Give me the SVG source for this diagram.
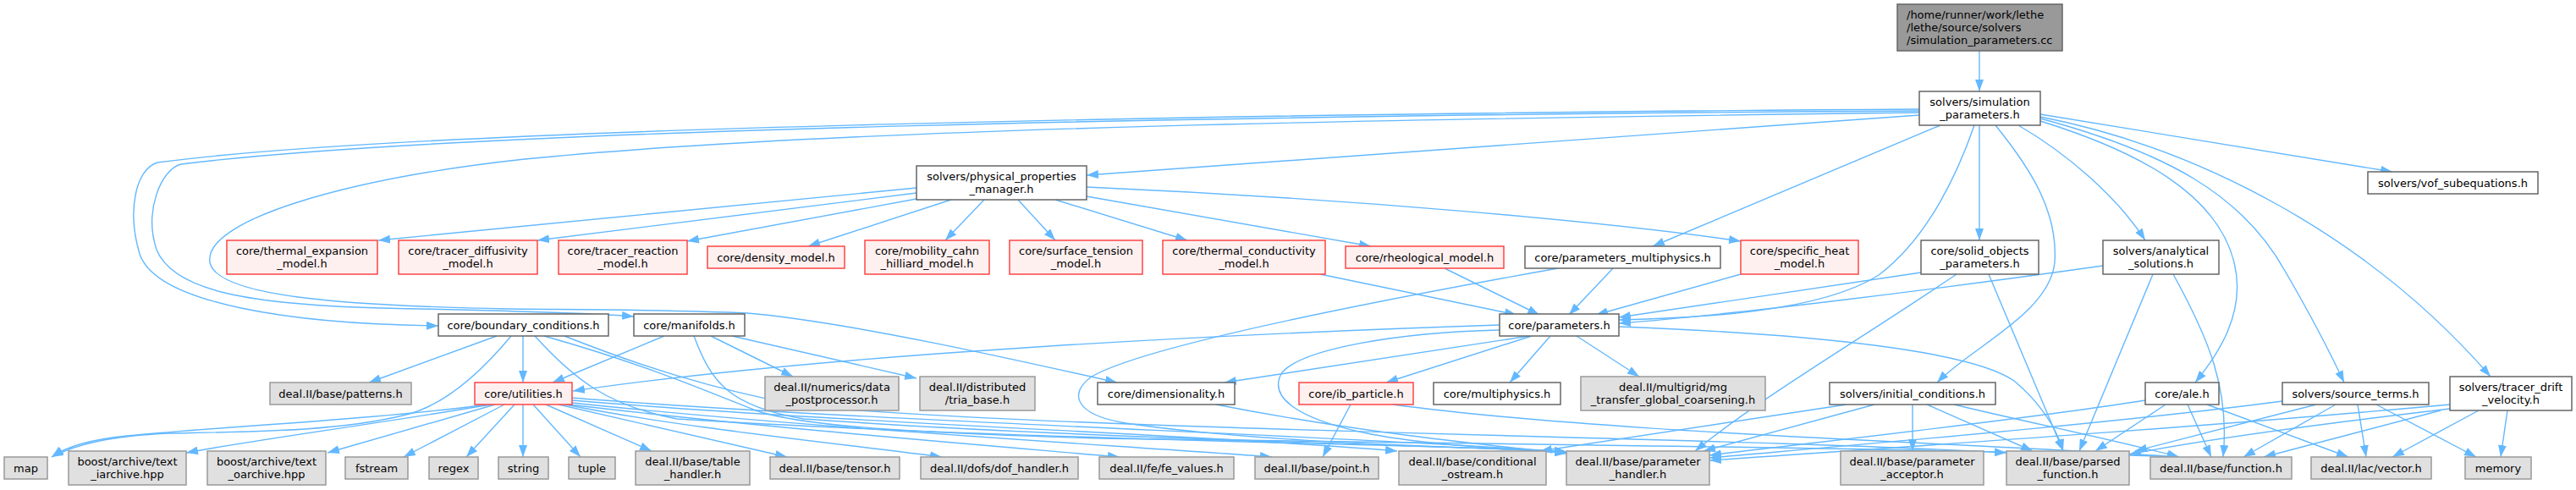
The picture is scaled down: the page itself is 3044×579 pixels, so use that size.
<svg xmlns="http://www.w3.org/2000/svg" width="3044" height="579" viewBox="0 0 3044 579">
<defs>
<marker id="a" markerUnits="userSpaceOnUse" markerWidth="14" markerHeight="10" viewBox="0 0 14 10" refX="14" refY="5" orient="auto"><path d="M0,0 L14,5 L0,10 z" fill="#63b8ff"/></marker>
</defs>
<style>
text{font-family:"DejaVu Sans","Liberation Sans",sans-serif;font-size:13px;fill:#000;text-anchor:middle}
.node rect{stroke-width:1.5}
.w rect{fill:#fff;stroke:#666}
.g rect{fill:#e0e0e0;stroke:#999}
.r rect{fill:#fff0f0;stroke:#ff4444}
.t rect{fill:#999;stroke:#666}
.t text{text-anchor:start}
#edges path{fill:none;stroke:#63b8ff;stroke-width:1.4;marker-end:url(#a)}
</style>
<rect width="3044" height="579" fill="#fff"/>
<g id="edges">
<path d="M2339,60 L2339,108"/>
<path d="M2268,136 L1284,207"/>
<path d="M2268,129 C1500,134 500,150 186,192 C160,200 150,250 165,300 C185,360 350,383 518,385"/>
<path d="M2268,131 C1500,136 550,152 214,194 C190,200 170,250 185,295 C205,345 300,360 450,364 C600,367 700,370 749,374"/>
<path d="M2268,133 C1700,140 1000,150 620,188 C400,212 240,262 248,310 C256,350 400,361 600,365 C700,366 800,366 883,370 C1000,380 1200,425 1320,452"/>
<path d="M2293,148 L1953,291"/>
<path d="M2333,148 C2315,200 2280,280 2220,325 C2150,370 2000,376 1913,378"/>
<path d="M2339,148 L2339,284"/>
<path d="M2358,148 C2400,200 2432,250 2428,310 C2422,370 2330,410 2289,452"/>
<path d="M2385,148 C2440,180 2500,230 2535,284"/>
<path d="M2411,143 C2530,180 2620,230 2640,310 C2655,370 2620,420 2594,452"/>
<path d="M2411,140 C2560,180 2650,230 2700,320 C2735,380 2755,420 2770,452"/>
<path d="M2411,138 C2600,175 2800,280 2943,445"/>
<path d="M2411,135 L2827,203"/>
<path d="M1083,222 L447,284"/>
<path d="M1083,228 L635,284"/>
<path d="M1083,235 L812,285"/>
<path d="M1124,236 L955,291"/>
<path d="M1163,236 L1117,284"/>
<path d="M1203,236 L1247,284"/>
<path d="M1247,236 L1403,284"/>
<path d="M1284,232 L1620,291"/>
<path d="M1284,221 C1600,235 1900,262 2057,285"/>
<path d="M1560,324 L1792,372"/>
<path d="M1707,317 L1819,372"/>
<path d="M1906,317 L1854,372"/>
<path d="M2057,324 L1886,372"/>
<path d="M2270,322 L1913,375"/>
<path d="M2485,314 C2300,340 2050,372 1913,382"/>
<path d="M1841,317 C1600,360 1350,410 1290,445 C1262,465 1270,490 1330,500 C1500,525 1750,528 1852,534"/>
<path d="M2312,324 C2200,400 2080,470 2003,533"/>
<path d="M2350,324 L2438,533"/>
<path d="M2544,324 L2457,533"/>
<path d="M2568,324 C2610,400 2635,460 2627,540"/>
<path d="M1772,384 C1500,393 1000,415 677,462"/>
<path d="M1807,397 L1447,452"/>
<path d="M1810,397 L1638,452"/>
<path d="M1832,397 L1784,452"/>
<path d="M1863,397 L1937,445"/>
<path d="M1913,386 C2150,395 2330,415 2380,450 C2410,475 2430,505 2438,533"/>
<path d="M1772,390 C1650,393 1540,412 1515,440 C1498,468 1530,495 1620,513 C1700,528 1800,531 1851,535"/>
<path d="M1596,478 L1563,540"/>
<path d="M1646,478 C1900,512 2300,522 2575,540"/>
<path d="M1437,478 C1600,510 1750,525 1851,536"/>
<path d="M587,397 L436,452"/>
<path d="M618,397 L618,452"/>
<path d="M604,397 C560,450 520,480 480,490 C400,510 300,510 200,512 C130,515 90,525 61,540"/>
<path d="M632,397 C680,450 720,480 800,495 C1200,520 1700,525 1851,534"/>
<path d="M643,397 C760,430 830,460 893,485 C950,505 1100,512 1300,518 C1800,525 2300,530 2575,540"/>
<path d="M667,397 C750,430 840,460 950,480 C1300,510 2000,515 2371,535"/>
<path d="M785,397 L653,452"/>
<path d="M840,397 L937,445"/>
<path d="M865,397 L1083,447"/>
<path d="M820,397 C840,450 860,480 950,495 C1300,520 1700,525 1851,534"/>
<path d="M576,478 C450,495 250,505 150,515 C100,520 75,530 61,540"/>
<path d="M580,478 C450,500 300,520 220,535"/>
<path d="M585,478 L387,535"/>
<path d="M596,478 L477,540"/>
<path d="M608,478 L551,540"/>
<path d="M618,478 L618,540"/>
<path d="M630,478 L686,540"/>
<path d="M645,478 L770,533"/>
<path d="M660,478 L930,540"/>
<path d="M668,478 C800,505 1000,525 1113,540"/>
<path d="M672,478 C900,505 1150,525 1323,540"/>
<path d="M676,476 C950,505 1300,525 1503,540"/>
<path d="M676,473 C1000,500 1450,515 1651,533"/>
<path d="M676,470 C1000,497 1600,515 1851,534"/>
<path d="M2182,478 L1820,533"/>
<path d="M2215,478 L2013,533"/>
<path d="M2260,478 L2260,533"/>
<path d="M2277,478 L2402,533"/>
<path d="M2309,478 C2400,500 2500,520 2575,540"/>
<path d="M2535,473 C2400,495 2150,522 2020,538"/>
<path d="M2559,478 L2476,533"/>
<path d="M2585,478 L2613,540"/>
<path d="M2608,478 L2775,540"/>
<path d="M2697,474 C2500,500 2200,525 2020,541"/>
<path d="M2737,478 L2523,533"/>
<path d="M2760,478 L2651,540"/>
<path d="M2786,478 L2796,540"/>
<path d="M2808,478 L2926,540"/>
<path d="M2895,478 C2600,505 2250,528 2020,544"/>
<path d="M2895,483 C2750,500 2600,520 2516,537"/>
<path d="M2884,485 L2675,540"/>
<path d="M2929,485 L2827,540"/>
<path d="M2963,485 L2955,540"/>
</g>
<g id="cc" class="node t"><rect x="2242" y="5" width="195" height="55"/><text x="2253" y="22">/home/runner/work/lethe</text><text x="2253" y="37">/lethe/source/solvers</text><text x="2253" y="52">/simulation_parameters.cc</text></g>
<g id="sim" class="node w"><rect x="2268" y="108" width="143" height="40"/><text x="2339.5" y="124.5">solvers/simulation</text><text x="2339.5" y="139.5">_parameters.h</text></g>
<g id="ppm" class="node w"><rect x="1083" y="196" width="201" height="40"/><text x="1183.5" y="212.5">solvers/physical_properties</text><text x="1183.5" y="227.5">_manager.h</text></g>
<g id="thermal_expansion" class="node r"><rect x="268" y="284" width="178" height="40"/><text x="357" y="300.5">core/thermal_expansion</text><text x="357" y="315.5">_model.h</text></g>
<g id="tracer_diffusivity" class="node r"><rect x="471" y="284" width="164" height="40"/><text x="553" y="300.5">core/tracer_diffusivity</text><text x="553" y="315.5">_model.h</text></g>
<g id="tracer_reaction" class="node r"><rect x="660" y="284" width="152" height="40"/><text x="736" y="300.5">core/tracer_reaction</text><text x="736" y="315.5">_model.h</text></g>
<g id="density" class="node r"><rect x="836" y="291" width="162" height="26"/><text x="917" y="308.5">core/density_model.h</text></g>
<g id="mobility" class="node r"><rect x="1022" y="284" width="147" height="40"/><text x="1095.5" y="300.5">core/mobility_cahn</text><text x="1095.5" y="315.5">_hilliard_model.h</text></g>
<g id="surface_tension" class="node r"><rect x="1193" y="284" width="157" height="40"/><text x="1271.5" y="300.5">core/surface_tension</text><text x="1271.5" y="315.5">_model.h</text></g>
<g id="thermal_conductivity" class="node r"><rect x="1374" y="284" width="192" height="40"/><text x="1470" y="300.5">core/thermal_conductivity</text><text x="1470" y="315.5">_model.h</text></g>
<g id="rheological" class="node r"><rect x="1590" y="291" width="187" height="26"/><text x="1683.5" y="308.5">core/rheological_model.h</text></g>
<g id="parameters_multiphysics" class="node w"><rect x="1802" y="291" width="231" height="26"/><text x="1917.5" y="308.5">core/parameters_multiphysics.h</text></g>
<g id="specific_heat" class="node r"><rect x="2057" y="284" width="139" height="40"/><text x="2126.5" y="300.5">core/specific_heat</text><text x="2126.5" y="315.5">_model.h</text></g>
<g id="solid_objects" class="node w"><rect x="2270" y="284" width="139" height="40"/><text x="2339.5" y="300.5">core/solid_objects</text><text x="2339.5" y="315.5">_parameters.h</text></g>
<g id="analytical" class="node w"><rect x="2485" y="284" width="137" height="40"/><text x="2553.5" y="300.5">solvers/analytical</text><text x="2553.5" y="315.5">_solutions.h</text></g>
<g id="vof" class="node w"><rect x="2798" y="203" width="201" height="26"/><text x="2898.5" y="220.5">solvers/vof_subequations.h</text></g>
<g id="boundary" class="node w"><rect x="518" y="371" width="201" height="26"/><text x="618.5" y="388.5">core/boundary_conditions.h</text></g>
<g id="manifolds" class="node w"><rect x="749" y="371" width="131" height="26"/><text x="814.5" y="388.5">core/manifolds.h</text></g>
<g id="parameters" class="node w"><rect x="1772" y="371" width="141" height="26"/><text x="1842.5" y="388.5">core/parameters.h</text></g>
<g id="patterns" class="node g"><rect x="319" y="452" width="167" height="26"/><text x="402.5" y="469.5">deal.II/base/patterns.h</text></g>
<g id="utilities" class="node r"><rect x="561" y="452" width="115" height="26"/><text x="618.5" y="469.5">core/utilities.h</text></g>
<g id="data_postprocessor" class="node g"><rect x="904" y="445" width="158" height="40"/><text x="983" y="461.5">deal.II/numerics/data</text><text x="983" y="476.5">_postprocessor.h</text></g>
<g id="tria_base" class="node g"><rect x="1087" y="445" width="136" height="40"/><text x="1155" y="461.5">deal.II/distributed</text><text x="1155" y="476.5">/tria_base.h</text></g>
<g id="dimensionality" class="node w"><rect x="1297" y="452" width="162" height="26"/><text x="1378" y="469.5">core/dimensionality.h</text></g>
<g id="ib_particle" class="node r"><rect x="1535" y="452" width="135" height="26"/><text x="1602.5" y="469.5">core/ib_particle.h</text></g>
<g id="multiphysics" class="node w"><rect x="1694" y="452" width="150" height="26"/><text x="1769" y="469.5">core/multiphysics.h</text></g>
<g id="mg_transfer" class="node g"><rect x="1868" y="445" width="218" height="40"/><text x="1977" y="461.5">deal.II/multigrid/mg</text><text x="1977" y="476.5">_transfer_global_coarsening.h</text></g>
<g id="initial_conditions" class="node w"><rect x="2162" y="452" width="196" height="26"/><text x="2260" y="469.5">solvers/initial_conditions.h</text></g>
<g id="ale" class="node w"><rect x="2535" y="452" width="87" height="26"/><text x="2578.5" y="469.5">core/ale.h</text></g>
<g id="source_terms" class="node w"><rect x="2697" y="452" width="173" height="26"/><text x="2783.5" y="469.5">solvers/source_terms.h</text></g>
<g id="tracer_drift" class="node w"><rect x="2895" y="445" width="144" height="40"/><text x="2967" y="461.5">solvers/tracer_drift</text><text x="2967" y="476.5">_velocity.h</text></g>
<g id="map" class="node g"><rect x="5" y="540" width="51" height="26"/><text x="30.5" y="557.5">map</text></g>
<g id="iarchive" class="node g"><rect x="81" y="533" width="139" height="40"/><text x="150.5" y="549.5">boost/archive/text</text><text x="150.5" y="564.5">_iarchive.hpp</text></g>
<g id="oarchive" class="node g"><rect x="245" y="533" width="140" height="40"/><text x="315" y="549.5">boost/archive/text</text><text x="315" y="564.5">_oarchive.hpp</text></g>
<g id="fstream" class="node g"><rect x="408" y="540" width="74" height="26"/><text x="445" y="557.5">fstream</text></g>
<g id="regex" class="node g"><rect x="507" y="540" width="58" height="26"/><text x="536" y="557.5">regex</text></g>
<g id="string" class="node g"><rect x="589" y="540" width="59" height="26"/><text x="618.5" y="557.5">string</text></g>
<g id="tuple" class="node g"><rect x="672" y="540" width="55" height="26"/><text x="699.5" y="557.5">tuple</text></g>
<g id="table_handler" class="node g"><rect x="751" y="533" width="135" height="40"/><text x="818.5" y="549.5">deal.II/base/table</text><text x="818.5" y="564.5">_handler.h</text></g>
<g id="tensor" class="node g"><rect x="910" y="540" width="153" height="26"/><text x="986.5" y="557.5">deal.II/base/tensor.h</text></g>
<g id="dof_handler" class="node g"><rect x="1088" y="540" width="186" height="26"/><text x="1181" y="557.5">deal.II/dofs/dof_handler.h</text></g>
<g id="fe_values" class="node g"><rect x="1299" y="540" width="159" height="26"/><text x="1378.5" y="557.5">deal.II/fe/fe_values.h</text></g>
<g id="point" class="node g"><rect x="1483" y="540" width="146" height="26"/><text x="1556" y="557.5">deal.II/base/point.h</text></g>
<g id="conditional_ostream" class="node g"><rect x="1653" y="533" width="174" height="40"/><text x="1740" y="549.5">deal.II/base/conditional</text><text x="1740" y="564.5">_ostream.h</text></g>
<g id="parameter_handler" class="node g"><rect x="1851" y="533" width="169" height="40"/><text x="1935.5" y="549.5">deal.II/base/parameter</text><text x="1935.5" y="564.5">_handler.h</text></g>
<g id="parameter_acceptor" class="node g"><rect x="2175" y="533" width="169" height="40"/><text x="2259.5" y="549.5">deal.II/base/parameter</text><text x="2259.5" y="564.5">_acceptor.h</text></g>
<g id="parsed_function" class="node g"><rect x="2371" y="533" width="145" height="40"/><text x="2443.5" y="549.5">deal.II/base/parsed</text><text x="2443.5" y="564.5">_function.h</text></g>
<g id="function" class="node g"><rect x="2541" y="540" width="167" height="26"/><text x="2624.5" y="557.5">deal.II/base/function.h</text></g>
<g id="vector" class="node g"><rect x="2731" y="540" width="142" height="26"/><text x="2802" y="557.5">deal.II/lac/vector.h</text></g>
<g id="memory" class="node g"><rect x="2913" y="540" width="78" height="26"/><text x="2952" y="557.5">memory</text></g>
</svg>
